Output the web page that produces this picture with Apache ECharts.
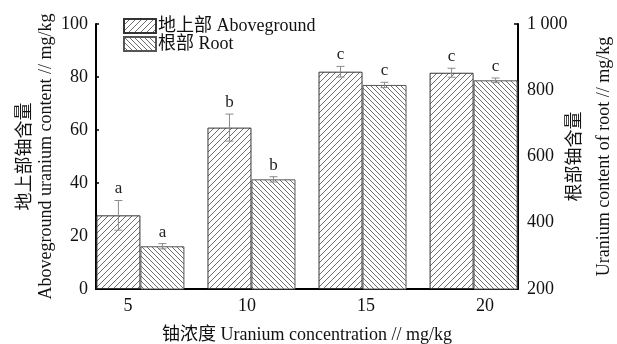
<!DOCTYPE html>
<html>
<head>
<meta charset="utf-8">
<script src="https://cdn.jsdelivr.net/npm/echarts@6/dist/echarts.min.js"></script>
<style>
  html, body { margin: 0; padding: 0; background: #fff; }
  #chart { width: 617px; height: 344px; }
</style>
</head>
<body>
<div id="chart"></div>
<script>
// data
const concentrations = [5, 10, 15, 20];
const aboveValues = [27.8, 60.9, 82.0, 81.6];
const aboveErrors = [5.6, 5.1, 2.0, 1.7];
const aboveLetters = ["a", "b", "c", "c"];
const rootValues = [329, 531, 816, 830];
const rootErrors = [8, 8, 8, 7];
const rootLetters = ["a", "b", "c", "c"];
const leftTicks = [0, 20, 40, 60, 80, 100];
const rightTicks = [200, 400, 600, 800, 1000];

const FONT = "'Liberation Serif', 'Noto Sans CJK SC', serif";
const BAR_W = 44;

// hatch pattern, dir 1 = "/" and -1 = "\"
function hatch(size, dir) {
  const c = document.createElement("canvas");
  c.width = size;
  c.height = size;
  const ctx = c.getContext("2d");
  ctx.fillStyle = "#fff";
  ctx.fillRect(0, 0, size, size);
  ctx.strokeStyle = "#6e6e6e";
  ctx.lineWidth = 1;
  ctx.beginPath();
  if (dir > 0) {
    ctx.moveTo(0, size); ctx.lineTo(size, 0);
    ctx.moveTo(-1, 1); ctx.lineTo(1, -1);
    ctx.moveTo(size - 1, size + 1); ctx.lineTo(size + 1, size - 1);
  } else {
    ctx.moveTo(0, 0); ctx.lineTo(size, size);
    ctx.moveTo(-1, size - 1); ctx.lineTo(1, size + 1);
    ctx.moveTo(size - 1, -1); ctx.lineTo(size + 1, 1);
  }
  ctx.stroke();
  return { image: c, repeat: "repeat" };
}

function errorSeries(name, yIndex, values, errors, letters, shift) {
  return {
    name: name + "-err",
    type: "custom",
    yAxisIndex: yIndex,
    z: 5,
    data: concentrations.map((x, i) => [x, values[i], errors[i]]),
    encode: { x: 0, y: 1 },
    renderItem: function (params, api) {
      const top = api.coord([api.value(0), api.value(1) + api.value(2)]);
      const bot = api.coord([api.value(0), api.value(1) - api.value(2)]);
      const x = top[0] + shift;
      const cap = 4;
      const st = { stroke: "#8a8a8a", lineWidth: 1 };
      return {
        type: "group",
        children: [
          { type: "line", shape: { x1: x, y1: top[1], x2: x, y2: bot[1] }, style: st },
          { type: "line", shape: { x1: x - cap, y1: top[1], x2: x + cap, y2: top[1] }, style: st },
          { type: "line", shape: { x1: x - cap, y1: bot[1], x2: x + cap, y2: bot[1] }, style: st },
          {
            type: "text",
            x: x,
            y: top[1] - 3,
            style: {
              text: letters[params.dataIndex],
              fill: "#222",
              font: "17px " + FONT,
              align: "center",
              verticalAlign: "bottom"
            }
          }
        ]
      };
    }
  };
}

const chart = echarts.init(document.getElementById("chart"), null, { renderer: "canvas" });

const option = {
  animation: false,
  backgroundColor: "#fff",
  textStyle: { fontFamily: FONT, color: "#111" },
  grid: { left: 96, right: 99, top: 24, bottom: 55, outerBoundsMode: "none", containLabel: false },
  legend: {
    orient: "vertical",
    left: 123,
    top: 17,
    padding: 0,
    icon: "rect",
    itemWidth: 32,
    itemHeight: 14,
    itemGap: 0,
    data: ["地上部 Aboveground", "根部 Root"],
    textStyle: { fontFamily: FONT, fontSize: 18, color: "#111", padding: [0, 0, 0, -3] }
  },
  xAxis: [
    {
      type: "value",
      min: 3,
      max: 22,
      axisLine: { show: true, lineStyle: { color: "#000", width: 2 } },
      axisTick: { show: false },
      axisLabel: { show: false },
      splitLine: { show: false },
      name: "铀浓度 Uranium concentration // mg/kg",
      nameLocation: "middle",
      nameGap: 37,
      nameMoveOverlap: false,
      nameTextStyle: { fontFamily: FONT, fontSize: 18, color: "#111" }
    },
    {
      type: "value",
      position: "bottom",
      min: 3.655,
      max: 21.39,
      axisLine: { show: false },
      axisTick: { show: false },
      splitLine: { show: false },
      axisLabel: {
        customValues: concentrations,
        margin: 8,
        fontFamily: FONT,
        fontSize: 18,
        color: "#111"
      }
    }
  ],
  yAxis: [
    {
      type: "value",
      min: 0,
      max: 100,
      interval: 20,
      axisLine: { show: true, lineStyle: { color: "#000", width: 2 } },
      axisTick: { show: true, inside: true, length: 3, lineStyle: { color: "#000", width: 1.5 } },
      axisLabel: { margin: 8, fontFamily: FONT, fontSize: 18, color: "#111",
        formatter: (v) => (leftTicks.includes(v) ? String(v) : "") },
      splitLine: { show: false },
      name: "地上部铀含量\nAboveground uranium content // mg/kg",
      nameLocation: "middle",
      nameRotate: 90,
      nameGap: 39,
      nameMoveOverlap: false,
      nameTextStyle: { fontFamily: FONT, fontSize: 18, color: "#111", lineHeight: 21 }
    },
    {
      type: "value",
      position: "right",
      min: 200,
      max: 1000,
      interval: 200,
      axisLine: { show: true, lineStyle: { color: "#000", width: 2 } },
      axisTick: { show: true, inside: true, length: 4, lineStyle: { color: "#000", width: 1.5 } },
      axisLabel: { margin: 9, fontFamily: FONT, fontSize: 18, color: "#111",
        formatter: (v) => (rightTicks.includes(v) ? (v >= 1000 ? "1 000" : String(v)) : "") },
      splitLine: { show: false },
      name: "根部铀含量\nUranium content of root // mg/kg",
      nameLocation: "middle",
      nameRotate: 90,
      nameGap: 43,
      nameMoveOverlap: false,
      nameTextStyle: { fontFamily: FONT, fontSize: 18, color: "#111", lineHeight: 29 }
    }
  ],
  series: [
    {
      name: "地上部 Aboveground",
      type: "bar",
      xAxisIndex: 0,
      yAxisIndex: 0,
      barWidth: BAR_W,
      barGap: "0%",
      data: concentrations.map((x, i) => [x, aboveValues[i]]),
      itemStyle: { color: hatch(6, 1), borderColor: "#333", borderWidth: 1 }
    },
    {
      name: "根部 Root",
      type: "bar",
      xAxisIndex: 0,
      yAxisIndex: 1,
      barWidth: BAR_W,
      barGap: "0%",
      data: concentrations.map((x, i) => [x, rootValues[i]]),
      itemStyle: { color: hatch(5, -1), borderColor: "#555", borderWidth: 1 }
    },
    errorSeries("above", 0, aboveValues, aboveErrors, aboveLetters, -BAR_W / 2),
    errorSeries("root", 1, rootValues, rootErrors, rootLetters, BAR_W / 2)
  ]
};

chart.setOption(option);
</script>
</body>
</html>
